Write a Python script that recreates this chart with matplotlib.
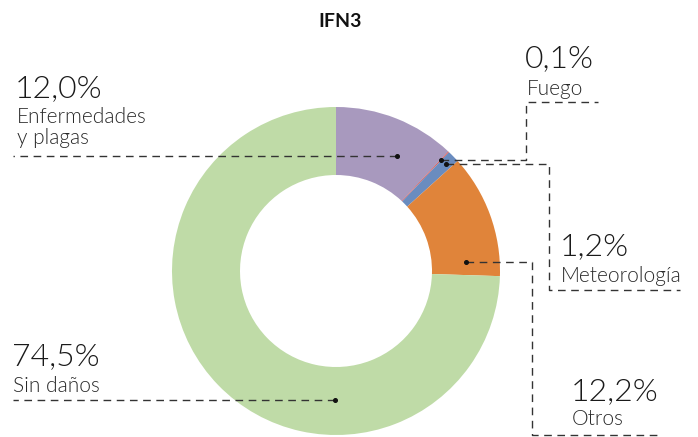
import numpy as np
import matplotlib
matplotlib.use("Agg")
import matplotlib.pyplot as plt

# Damage categories (IFN3), clockwise from 12 o'clock
categories = ["Enfermedades\ny plagas", "Fuego", "Meteorología", "Otros", "Sin daños"]
values = [12.0, 0.1, 1.2, 12.2, 74.5]
value_labels = ["12,0%", "0,1%", "1,2%", "12,2%", "74,5%"]
colors = ["#A899BE", "#D9534F", "#6A8CBF", "#E0843A", "#BFDBA7"]
title = "IFN3"

W, H = 698, 437
fig = plt.figure(figsize=(W / 100, H / 100), dpi=100)
ax = fig.add_axes([0, 0, 1, 1])

cx, cy = 336, H - 271
R, ring = 164, 68

wedges, _ = ax.pie(values, colors=colors, startangle=90, counterclock=False,
                   center=(cx, cy), radius=R,
                   wedgeprops=dict(width=ring, linewidth=0))
ax.set_xlim(0, W)
ax.set_ylim(0, H)
ax.set_aspect("equal")
ax.axis("off")

# slice boundary angles (degrees, clockwise from top)
bounds = 90 - 360 * np.concatenate([[0], np.cumsum(values)]) / sum(values)


def anchor(i, frac, r):
    a = np.deg2rad(bounds[i] + frac * (bounds[i + 1] - bounds[i]))
    return cx + r * np.cos(a), cy + r * np.sin(a)


def Y(y):
    return H - y


line_kw = dict(color="#333333", lw=1.0, ls=(0, (5.5, 4)))
dot_kw = dict(marker="o", ms=2.6, color="#111111", ls="none")


def leader(points):
    xs, ys = zip(*points)
    ax.plot(xs, ys, **line_kw)
    ax.plot([xs[0]], [ys[0]], **dot_kw)


# anchors for each label
p_enf = anchor(0, 0.65, 130)
p_fue = anchor(1, 0.5, 153)
p_met = anchor(2, 0.5, 153)
p_otr = anchor(3, 0.87, 130)
p_sin = anchor(4, 0.33, 129)

leader([p_enf, (13, p_enf[1])])
leader([p_fue, (526, p_fue[1]), (526, Y(102)), (598, Y(102))])
leader([p_met, (549, p_met[1]), (549, Y(290)), (680, Y(290))])
leader([p_otr, (532, p_otr[1]), (532, Y(435)), (660, Y(435))])
leader([p_sin, (13, p_sin[1])])

# Lato Light (weight 300)
big = dict(fontfamily="Lato", fontweight=300, fontsize=23, color="#1a1a1a")
small = dict(fontfamily="Lato", fontweight=300, fontsize=15, color="#2a2a2a")

ax.text(15, Y(97), value_labels[0], va="baseline", **big)
ax.text(17, Y(123), "Enfermedades", va="baseline", **small)
ax.text(17, Y(144), "y plagas", va="baseline", **small)

ax.text(525, Y(67), value_labels[1], va="baseline", **big)
ax.text(527, Y(95), categories[1], va="baseline", **small)

ax.text(560, Y(255), value_labels[2], va="baseline", **big)
ax.text(561, Y(282), categories[2], va="baseline", **small)

ax.text(571, Y(400), value_labels[3], va="baseline", **big)
ax.text(572, Y(425), categories[3], va="baseline", **small)

ax.text(12, Y(365), value_labels[4], va="baseline", **big)
ax.text(13, Y(392), categories[4], va="baseline", **small)

ax.text(340, Y(27), title, ha="center", va="baseline", fontfamily="Lato",
        fontweight="bold", fontsize=14, color="#111111")

fig.savefig("out.png", dpi=100)
